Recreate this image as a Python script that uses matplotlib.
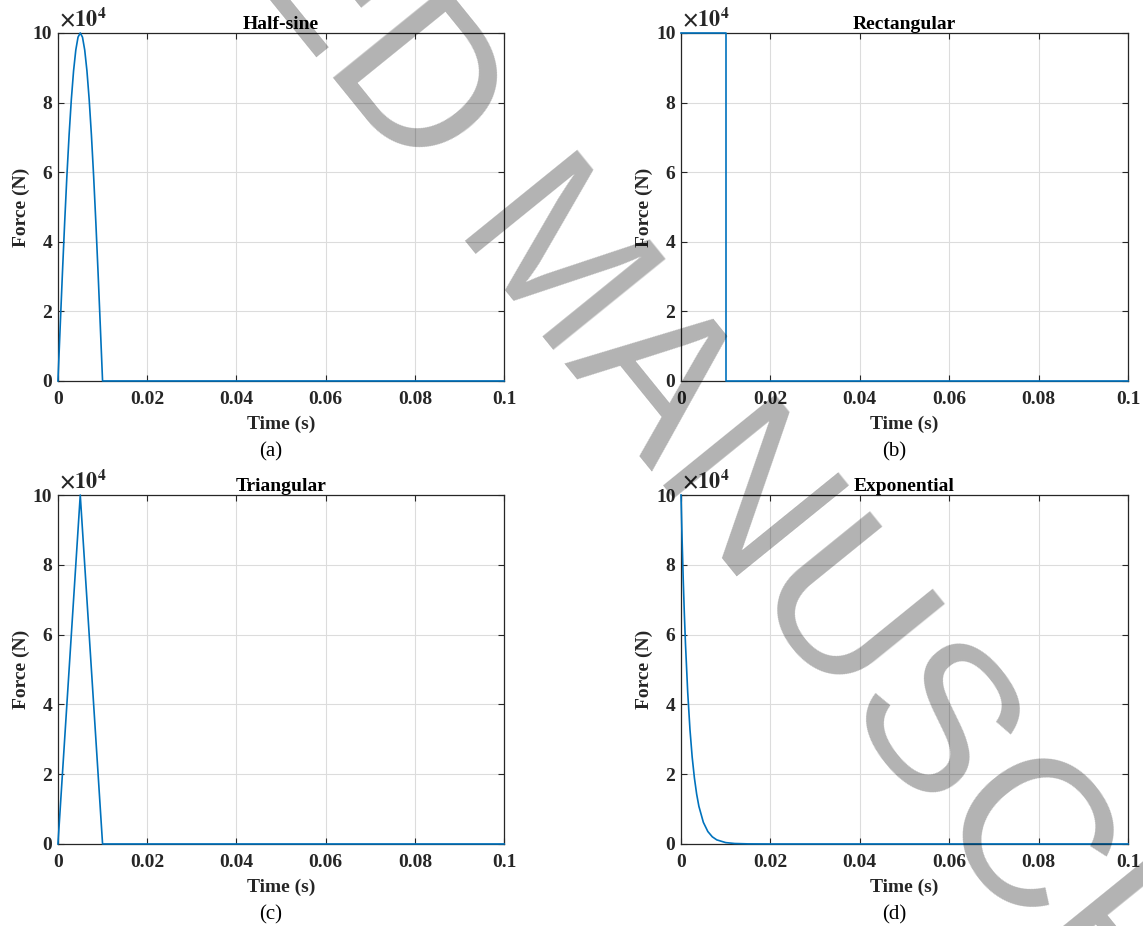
import matplotlib
matplotlib.use('Agg')
import matplotlib.pyplot as plt
from matplotlib.ticker import FuncFormatter

plt.rcParams['font.family'] = 'Liberation Serif'
plt.rcParams['font.size'] = 14
plt.rcParams['font.weight'] = 'bold'
plt.rcParams['mathtext.fontset'] = 'stix'

# pulse shapes, time in s and force in N
half_sine_t = [0, 0.0005, 0.001, 0.0015, 0.002, 0.0025, 0.003, 0.0035, 0.004, 0.0045, 0.005,
               0.0055, 0.006, 0.0065, 0.007, 0.0075, 0.008, 0.0085, 0.009, 0.0095, 0.01, 0.1]
half_sine_f = [0, 15600, 30900, 45400, 58800, 70700, 80900, 89100, 95100, 98800, 100000,
               98800, 95100, 89100, 80900, 70700, 58800, 45400, 30900, 15600, 0, 0]

rect_t = [0, 0.01, 0.01, 0.1]
rect_f = [100000, 100000, 0, 0]

tri_t = [0, 0.005, 0.01, 0.1]
tri_f = [0, 100000, 0, 0]

exp_t = [0, 0.00025, 0.0005, 0.00075, 0.001, 0.0015, 0.002, 0.0025, 0.003, 0.0035, 0.004,
         0.005, 0.006, 0.007, 0.008, 0.01, 0.012, 0.015, 0.02, 0.1]
exp_f = [100000, 87000, 75700, 65900, 57400, 43500, 32900, 24900, 18900, 14300, 10800,
         6200, 3570, 2050, 1170, 390, 130, 24, 0, 0]

titles = ['Half-sine', 'Rectangular', 'Triangular', 'Exponential']
tags = ['(a)', '(b)', '(c)', '(d)']
x_ticks = [0, 0.02, 0.04, 0.06, 0.08, 0.1]
x_ticklabels = ['0', '0.02', '0.04', '0.06', '0.08', '0.1']
y_ticks = [0, 20000, 40000, 60000, 80000, 100000]

series = [(half_sine_t, half_sine_f), (rect_t, rect_f), (tri_t, tri_f), (exp_t, exp_f)]

line_color = '#0072BD'
axis_color = '#262626'

fig = plt.figure(figsize=(11.43, 9.26), dpi=100)

# [left, bottom, width, height] for each panel
boxes = [[0.0507, 0.5886, 0.3903, 0.3758],
         [0.5958, 0.5886, 0.3911, 0.3758],
         [0.0507, 0.0886, 0.3903, 0.3768],
         [0.5958, 0.0886, 0.3911, 0.3768]]

for i in range(4):
    ax = fig.add_axes(boxes[i])
    t, f = series[i]
    ax.plot(t, f, color=line_color, linewidth=1.2, clip_on=False, zorder=3)

    ax.set_xlim(0, 0.1)
    ax.set_ylim(0, 100000)
    ax.set_xticks(x_ticks)
    ax.set_xticklabels(x_ticklabels)
    ax.set_yticks(y_ticks)
    ax.yaxis.set_major_formatter(FuncFormatter(lambda v, p: '{:g}'.format(v / 1e4)))

    ax.grid(True, color='#dcdcdc', linewidth=0.8)
    ax.set_axisbelow(True)
    for s in ax.spines.values():
        s.set_color(axis_color)
        s.set_linewidth(0.9)
    ax.tick_params(direction='in', length=4, width=0.8, color=axis_color,
                   top=True, right=True, labelsize=14, labelcolor=axis_color)
    ax.tick_params(axis='x', pad=7)
    ax.tick_params(axis='y', pad=4)

    ax.set_xlabel('Time (s)', fontsize=14, fontweight='bold', color=axis_color, labelpad=5.5)
    ax.set_ylabel('Force (N)', fontsize=14, fontweight='bold', color=axis_color, labelpad=2)
    ax.set_title(titles[i], fontsize=14, fontweight='bold', color='k', pad=3)

    ax.text(0.003, 1.005, r'$\times10^{4}$', transform=ax.transAxes, ha='left', va='bottom',
            fontsize=16, color=axis_color)
    ax.text(0.476, -0.204, tags[i], transform=ax.transAxes, ha='center', va='center',
            fontsize=15, fontweight='normal', color='k')

# diagonal watermark across the whole figure
fig.text(0.448, 0.677, 'ACCEPTED MANUSCRIPT', family='Liberation Sans', fontweight='normal',
         fontsize=151, rotation=-51, rotation_mode='anchor', ha='center', va='baseline',
         color='k', alpha=0.3, zorder=10)

plt.savefig('out.png', dpi=100)
